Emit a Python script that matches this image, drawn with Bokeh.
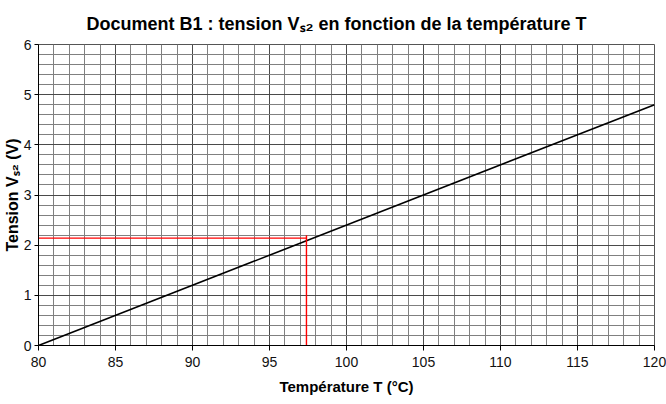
from bokeh.plotting import figure
from bokeh.models import SingleIntervalTicker, Range1d
from bokeh.embed import file_html
from bokeh.resources import INLINE

# ---- data ----
temperature = [80, 120]          # °C
tension = [0.0, 4.8]             # V
red_h_x = [80, 97.4]
red_h_y = [2.14, 2.14]
red_v_x = [97.4, 97.4]
red_v_y = [2.2, -0.2]

x_tick_interval = 5
y_tick_interval = 1

title_text = "Document B1 : tension V\u209b\u2082 en fonction de la température T"
x_label = "Température T (°C)"
y_label = "Tension V\u209b\u2082 (V)"

FONT = "Liberation Sans"

p = figure(width=666, height=404,
           x_range=Range1d(80, 120), y_range=Range1d(0, 6),
           output_backend="svg", toolbar_location=None,
           min_border_left=38, min_border_right=12,
           min_border_top=44, min_border_bottom=59)

p.title.text = title_text
p.title.text_font = FONT
p.title.text_font_size = "18px"
p.title.text_font_style = "bold"
p.title.text_color = "black"
p.title.align = "left"
p.title.offset = 48
p.title.standoff = 22

p.background_fill_color = "white"
p.border_fill_color = "white"
p.outline_line_color = "#555555"

p.xaxis.ticker = SingleIntervalTicker(interval=x_tick_interval, num_minor_ticks=5)
p.yaxis.ticker = SingleIntervalTicker(interval=y_tick_interval, num_minor_ticks=5)

for ax in (p.xaxis[0], p.yaxis[0]):
    ax.axis_line_color = "black"
    ax.axis_line_width = 1
    ax.major_tick_line_color = "black"
    ax.major_tick_in = 0
    ax.minor_tick_line_color = None
    ax.major_label_text_font = FONT
    ax.major_label_text_font_size = "14px"
    ax.major_label_text_color = "#111111"
    ax.axis_label_text_font = FONT
    ax.axis_label_text_font_style = "bold"
    ax.axis_label_text_color = "black"

p.xaxis.axis_label = x_label
p.xaxis.axis_label_text_font_size = "15px"
p.xaxis.major_tick_out = 5
p.xaxis.major_label_standoff = 6
p.xaxis.axis_label_standoff = 8

p.yaxis.axis_label = y_label
p.yaxis.axis_label_text_font_size = "16px"
p.yaxis.major_tick_out = 4
p.yaxis.major_label_standoff = 3
p.yaxis.axis_label_standoff = 0

for g in (p.xgrid[0], p.ygrid[0]):
    g.grid_line_color = "#4a4a4a"
    g.grid_line_width = 1
    g.minor_grid_line_color = "#808080"
    g.minor_grid_line_width = 1

# main curve
p.line(temperature, tension, line_color="black", line_width=1.6)

# red reading lines
p.line(red_h_x, red_h_y, line_color="red", line_width=1.4)
p.line(red_v_x, red_v_y, line_color="red", line_width=1.4)

open("out.html", "w", encoding="utf-8").write(file_html(p, INLINE))
